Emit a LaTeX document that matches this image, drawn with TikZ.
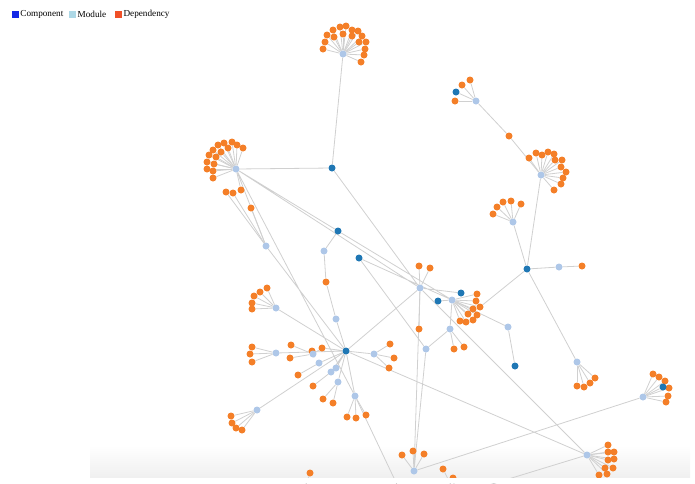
\documentclass[tikz,border=0pt]{standalone}
\usepackage{fontspec}
\setmainfont{Liberation Serif}
\usetikzlibrary{positioning}

\definecolor{compblue}{RGB}{31,119,180}
\definecolor{modblue}{RGB}{174,199,232}
\definecolor{deporange}{RGB}{244,127,40}
\definecolor{linkgray}{RGB}{208,208,208}
\definecolor{legcomp}{RGB}{20,40,230}
\definecolor{legmod}{RGB}{173,216,230}
\definecolor{legdep}{RGB}{240,80,40}

\pgfdeclarelayer{bg}
\pgfsetlayers{bg,main}

\begin{document}
\begin{tikzpicture}[
      x=1pt, y=-1pt,
      comp/.style={circle, fill=compblue, inner sep=0pt, minimum size=7pt},
      mod/.style={circle, fill=modblue, inner sep=0pt, minimum size=7pt},
      dep/.style={circle, fill=deporange, inner sep=0pt, minimum size=7pt},
      link/.style={draw=linkgray, line width=0.8pt},
      legbox/.style={rectangle, inner sep=0pt, minimum size=7pt},
      legtext/.style={inner sep=1pt, font=\fontsize{9.2}{10}\selectfont}
    ]
    \useasboundingbox (0,0) rectangle (695,483);

    % legend
    \node[legbox, fill=legcomp] (kc) at (15,14.5) {};
    \node[legtext, right=0.5pt of kc] (tc) {Component};
    \node[legbox, fill=legmod, right=4pt of tc] (km) {};
    \node[legtext, right=0.5pt of km] (tm) {Module};
    \node[legbox, fill=legdep, right=7pt of tm] (kd) {};
    \node[legtext, right=0.5pt of kd] (td) {Dependency};

    % fading band at the bottom
    \begin{pgfonlayer}{bg}
      \fill[top color=white, bottom color=black!6] (90,445) rectangle (690,477);
    \end{pgfonlayer}

    % components
    \node[comp] (c1) at (332,168) {};
    \node[comp] (c2) at (338,231) {};
    \node[comp] (c3) at (359,258) {};
    \node[comp] (c4) at (527,269) {};
    \node[comp] (c5) at (461,293) {};
    \node[comp] (c6) at (438,301) {};
    \node[comp] (c7) at (515,366) {};
    \node[comp] (c8) at (346,351) {};

    % modules
    \node[mod] (m1) at (343,54) {};
    \node[mod] (m2) at (236,169) {};
    \node[mod] (m3) at (476,101) {};
    \node[mod] (m4) at (541,175) {};
    \node[mod] (m5) at (513,222) {};
    \node[mod] (m6) at (420,288) {};
    \node[mod] (m7) at (452,300) {};
    \node[mod] (m8) at (266,246) {};
    \node[mod] (m9) at (587,455) {};
    \node[mod] (m10) at (643,397) {};
    \node[mod] (m11) at (414,471) {};
    \node[mod] (m12) at (324,251) {};
    \node[mod] (m13) at (336,319) {};
    \node[mod] (m14) at (559,267) {};
    \node[mod] (m15) at (577,362) {};
    \node[mod] (m16) at (450,329) {};
    \node[mod] (m17) at (426,349) {};
    \node[mod] (m18) at (508,327) {};
    \node[mod] (m19) at (276,308) {};
    \node[mod] (m20) at (276,353) {};
    \node[mod] (m22) at (319,363) {};
    \node[mod] (m23) at (331,372) {};
    \node[mod] (m24) at (336,368) {};
    \node[mod] (m25) at (338,382) {};
    \node[mod] (m26) at (374,354) {};
    \node[mod] (m27) at (355,396) {};
    \node[mod] (m28) at (257,410) {};

    % dependency fans
    \foreach \x/\y [count=\i] in {323/49,325/42,327/35,333/30,340/27,346/26,352/30,358/31,362/36,366/42,365/49,364/55,361/62,334/37,343/34,352/36,359/42} {
      \node[dep] (a\i) at (\x,\y) {};
      \begin{pgfonlayer}{bg}\draw[link] (m1) -- (a\i);\end{pgfonlayer}
    }
    \foreach \x/\y [count=\i] in {207/169,207/162,209/155,213/150,218/145,224/143,232/142,237/145,243/148,214/164,216/157,221/152,228/148,213/171,213/178,241/190} {
      \node[dep] (b\i) at (\x,\y) {};
      \begin{pgfonlayer}{bg}\draw[link] (m2) -- (b\i);\end{pgfonlayer}
    }
    \foreach \x/\y [count=\i] in {226/192,233/193,251/208} {
      \node[dep] (h\i) at (\x,\y) {};
      \begin{pgfonlayer}{bg}\draw[link] (m8) -- (h\i);\end{pgfonlayer}
    }
    \foreach \x/\y [count=\i] in {462/85,470/80,455/101} {
      \node[dep] (g\i) at (\x,\y) {};
      \begin{pgfonlayer}{bg}\draw[link] (m3) -- (g\i);\end{pgfonlayer}
    }
    \node[comp] (c9) at (456,92) {};
    \foreach \x/\y [count=\i] in {529/158,536/153,542/155,548/152,554/154,555/160,562/160,561/167,566/172,563/178,561/184,554/190} {
      \node[dep] (d\i) at (\x,\y) {};
      \begin{pgfonlayer}{bg}\draw[link] (m4) -- (d\i);\end{pgfonlayer}
    }
    \foreach \x/\y [count=\i] in {493/214,497/207,503/202,511/201,521/204} {
      \node[dep] (e\i) at (\x,\y) {};
      \begin{pgfonlayer}{bg}\draw[link] (m5) -- (e\i);\end{pgfonlayer}
    }
    \foreach \x/\y [count=\i] in {419/266,430/268,419/329} {
      \node[dep] (f\i) at (\x,\y) {};
      \begin{pgfonlayer}{bg}\draw[link] (m6) -- (f\i);\end{pgfonlayer}
    }
    \foreach \x/\y [count=\i] in {477/294,476/301,480/307,473/309,477/315,468/314,473/320,466/322,460/321} {
      \node[dep] (k\i) at (\x,\y) {};
      \begin{pgfonlayer}{bg}\draw[link] (m7) -- (k\i);\end{pgfonlayer}
    }
    \foreach \x/\y [count=\i] in {454/349,464/347} {
      \node[dep] (n\i) at (\x,\y) {};
      \begin{pgfonlayer}{bg}\draw[link] (m16) -- (n\i);\end{pgfonlayer}
    }
    \foreach \x/\y [count=\i] in {577/386,584/387,590/383,595/378} {
      \node[dep] (p\i) at (\x,\y) {};
      \begin{pgfonlayer}{bg}\draw[link] (m15) -- (p\i);\end{pgfonlayer}
    }
    \foreach \x/\y [count=\i] in {653/374,659/377,665/381,669/388,668/396,666/402} {
      \node[dep] (q\i) at (\x,\y) {};
      \begin{pgfonlayer}{bg}\draw[link] (m10) -- (q\i);\end{pgfonlayer}
    }
    \node[comp] (c10) at (663,387) {};
    \foreach \x/\y [count=\i] in {608/445,608/452,614/452,608/460,614/459,605/468,613/468,599/475,607/474} {
      \node[dep] (r\i) at (\x,\y) {};
      \begin{pgfonlayer}{bg}\draw[link] (m9) -- (r\i);\end{pgfonlayer}
    }
    \foreach \x/\y [count=\i] in {402/455,413/451,424/454} {
      \node[dep] (s\i) at (\x,\y) {};
      \begin{pgfonlayer}{bg}\draw[link] (m11) -- (s\i);\end{pgfonlayer}
    }
    \foreach \x/\y [count=\i] in {252/309,252/303,254/296,260/292,267/288} {
      \node[dep] (t\i) at (\x,\y) {};
      \begin{pgfonlayer}{bg}\draw[link] (m19) -- (t\i);\end{pgfonlayer}
    }
    \foreach \x/\y [count=\i] in {252/347,250/354,252/362} {
      \node[dep] (u\i) at (\x,\y) {};
      \begin{pgfonlayer}{bg}\draw[link] (m20) -- (u\i);\end{pgfonlayer}
    }
    \foreach \x/\y [count=\i] in {291/345,290/358,312/351,322/348} {
      \node[dep] (v\i) at (\x,\y) {};
    }
    \node[mod] (m21) at (313,354) {};
    \foreach \i in {1,...,4} {
      \begin{pgfonlayer}{bg}\draw[link] (m21) -- (v\i);\end{pgfonlayer}
    }
    \foreach \x/\y [count=\i] in {323/399,333/403} {
      \node[dep] (x\i) at (\x,\y) {};
      \begin{pgfonlayer}{bg}\draw[link] (m25) -- (x\i);\end{pgfonlayer}
    }
    \foreach \x/\y [count=\i] in {390/344,394/358,389/368} {
      \node[dep] (y\i) at (\x,\y) {};
      \begin{pgfonlayer}{bg}\draw[link] (m26) -- (y\i);\end{pgfonlayer}
    }
    \foreach \x/\y [count=\i] in {347/417,356/418,366/415} {
      \node[dep] (z\i) at (\x,\y) {};
      \begin{pgfonlayer}{bg}\draw[link] (m27) -- (z\i);\end{pgfonlayer}
    }
    \foreach \x/\y [count=\i] in {231/416,232/423,236/428,242/430} {
      \node[dep] (l\i) at (\x,\y) {};
      \begin{pgfonlayer}{bg}\draw[link] (m28) -- (l\i);\end{pgfonlayer}
    }

    % loose dependencies
    \node[dep] (o1) at (509,136) {};
    \node[dep] (o2) at (326,282) {};
    \node[dep] (o3) at (582,266) {};
    \node[dep] (w1) at (298,375) {};
    \node[dep] (w2) at (313,386) {};
    \node[dep] (o4) at (443,469) {};
    \node[dep] (o5) at (453,478) {};
    \node[dep] (o6) at (310,473) {};
    \coordinate (cut1) at (402,495);
    \coordinate (cut2) at (456,495);
    \coordinate (cut3) at (302,495);

    % links
    \begin{pgfonlayer}{bg}
      \draw[link] (m1) -- (c1) (m2) -- (c1) (c1) -- (m6)
        (m2) -- (c2) (c2) -- (m7) (m2) -- (m6) (m2) -- (m8) (m2) -- (m27)
        (m8) -- (c8) (c2) -- (m12) (m12) -- (o2) (o2) -- (m13) (m13) -- (c8)
        (c3) -- (m7) (c3) -- (m17) (m17) -- (m11) (m6) -- (m11)
        (m6) -- (c5) (m7) -- (c6) (m7) -- (m16) (m16) -- (m17)
        (m7) -- (m18) (m18) -- (c7) (m6) -- (m9) (m6) -- (c8) (c8) -- (m9)
        (m10) -- (m11) (m10) -- (c10) (m9) -- (cut2) (m27) -- (cut1)
        (c8) -- (m19) (c8) -- (m20) (c8) -- (m22) (c8) -- (m23) (c8) -- (m24)
        (c8) -- (m25) (c8) -- (m26) (c8) -- (m27) (c8) -- (m28) (c8) -- (v4)
        (m22) -- (w1) (m23) -- (w2)
        (m3) -- (c9) (m3) -- (o1) (o1) -- (m4) (m4) -- (c4) (m5) -- (c4)
        (c4) -- (m14) (m14) -- (o3) (c4) -- (k3) (c4) -- (m15)
        (o4) -- (cut2) (o5) -- (cut2) (o6) -- (cut3);
    \end{pgfonlayer}

    % the picture stops above the last strip
    \fill[white] (0,477.5) rectangle (695,483);
  \end{tikzpicture}
\end{document}
